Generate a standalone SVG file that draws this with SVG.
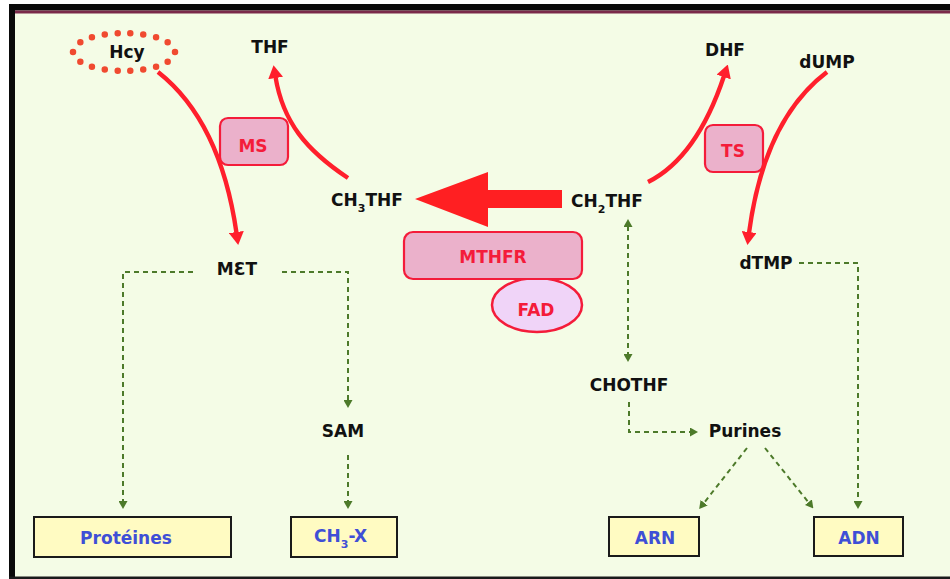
<svg xmlns="http://www.w3.org/2000/svg" width="950" height="579" viewBox="0 0 950 579">
<style>
text{font-family:"DejaVu Sans","Liberation Sans",sans-serif;font-weight:bold;font-size:17px;fill:#111;text-anchor:middle}
.red{fill:#f41c3a}
.blue{fill:#3f4fd6}
.enz{fill:#ebb1cb;stroke:#f41c3a;stroke-width:2.2}
.prod{fill:#fffbc2;stroke:#1a1a1a;stroke-width:2}
.ra{fill:none;stroke:#ff1f2c;stroke-width:4.4;marker-end:url(#rh)}
.ga{fill:none;stroke:#4d7a2a;stroke-width:2;stroke-dasharray:5 4;marker-end:url(#gh)}
</style>
<defs>
<marker id="rh" viewBox="0 0 13 15" refX="1" refY="7.5" markerWidth="13" markerHeight="15" markerUnits="userSpaceOnUse" orient="auto">
<path d="M0,0 L13,7.5 L0,15 z" fill="#ff1f2c"/>
</marker>
<marker id="gh" viewBox="0 0 8 9" refX="1" refY="4.5" markerWidth="8" markerHeight="9" markerUnits="userSpaceOnUse" orient="auto-start-reverse">
<path d="M0,0 L8,4.5 L0,9 z" fill="#4d7a2a"/>
</marker>
</defs>
<rect x="0" y="0" width="950" height="579" fill="#ffffff"/>
<rect x="9" y="4" width="941" height="575" fill="#f4fce6"/>
<rect x="9" y="4" width="941" height="6.5" fill="#0a0a0a"/>
<rect x="15" y="10.5" width="935" height="3" fill="#7a2a4a"/>
<rect x="9" y="4" width="6" height="575" fill="#0a0a0a"/>
<rect x="9" y="576.5" width="941" height="2.5" fill="#1a1a1a"/>

<g id="hcy">
<ellipse cx="124" cy="52" rx="51" ry="19" fill="none" stroke="#f04a30" stroke-width="6.5" stroke-linecap="round" stroke-dasharray="0 10" pathLength="180"/>
<text x="127" y="58">Hcy</text>
</g>
<g id="thf"><text x="270" y="53">THF</text></g>
<g id="dhf"><text x="725" y="56">DHF</text></g>
<g id="dump"><text x="827" y="68">dUMP</text></g>
<g id="ms"><rect class="enz" x="220" y="118" width="68" height="47" rx="8"/><text class="red" x="253" y="152">MS</text></g>
<g id="ts"><rect class="enz" x="705" y="125" width="58" height="47" rx="8"/><text class="red" x="733" y="157">TS</text></g>
<g id="ch3thf"><text x="331" y="206" style="text-anchor:start">CH<tspan dy="6" font-size="11">3</tspan><tspan dy="-6">THF</tspan></text></g>
<g id="ch2thf"><text x="571" y="207" style="text-anchor:start">CH<tspan dy="6" font-size="11">2</tspan><tspan dy="-6">THF</tspan></text></g>
<g id="fad"><ellipse cx="537" cy="305" rx="45" ry="27" fill="#f0d4f8" stroke="#f41c3a" stroke-width="2.5"/><text class="red" x="536" y="316">FAD</text></g>
<g id="mthfr"><rect class="enz" x="404" y="232" width="178" height="47" rx="9"/><text class="red" x="493" y="263">MTHFR</text></g>
<g id="met"><text x="237" y="275">MƐT</text></g>
<g id="sam"><text x="343" y="437">SAM</text></g>
<g id="dtmp"><text x="766" y="269">dTMP</text></g>
<g id="chothf"><text x="629" y="391">CHOTHF</text></g>
<g id="purines"><text x="745" y="437">Purines</text></g>
<g id="proteines"><rect class="prod" x="34" y="517" width="197" height="40"/><text class="blue" x="126" y="544">Protéines</text></g>
<g id="ch3x"><rect class="prod" x="291" y="517" width="106" height="40"/><text class="blue" x="314" y="542" style="text-anchor:start">CH<tspan dy="6" font-size="11">3</tspan><tspan dy="-6">-X</tspan></text></g>
<g id="arn"><rect class="prod" x="609" y="517" width="90" height="39"/><text class="blue" x="655" y="544">ARN</text></g>
<g id="adn"><rect class="prod" x="814" y="517" width="89" height="39"/><text class="blue" x="859" y="544">ADN</text></g>

<g id="connectors">
<path class="ra" d="M158,72 C200,105 226,160 236.5,233"/>
<path class="ra" d="M348,178 C306,150 283,122 275.5,77"/>
<path class="ra" d="M648,182 C682,165 706,130 724,76"/>
<path class="ra" d="M827,72 C790,100 760,150 749,233"/>
<path d="M562,190 L488,190 L488,172 L415,199 L488,227 L488,208 L562,208 z" fill="#ff1f22"/>
<path class="ga" d="M193,272 H123 V502"/>
<path class="ga" d="M282,272 H348 V401"/>
<path class="ga" d="M348,455 V502"/>
<path class="ga" d="M628,226 V355" style="marker-start:url(#gh)"/>
<path class="ga" d="M629,402 V432 H691"/>
<path class="ga" d="M747,448 L703.5,503.5"/>
<path class="ga" d="M765,448 L809,503"/>
<path class="ga" d="M799,263 H858 V502"/>
</g>
</svg>
